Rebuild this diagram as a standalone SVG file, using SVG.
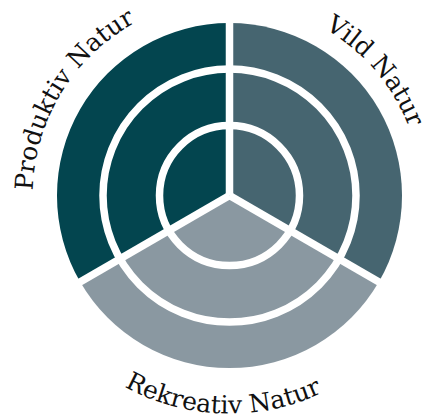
<svg xmlns="http://www.w3.org/2000/svg" width="424" height="418" viewBox="0 0 424 418">
  <style>
    .sep { stroke: #ffffff; stroke-width: 7.5; fill: none; }
    .lbl { font-family: "DejaVu Serif", "Liberation Serif", serif; font-size: 25px; fill: #111111; }
  </style>
  <defs>
    <path id="arcProd" d="M56.4,289.6 A197,197 0 0 1 234.7,-1.3"/>
    <path id="arcVild" d="M194.3,6.7 A192,192 0 0 1 410.3,259.6"/>
    <path id="arcRek" d="M37.2,298.5 A218,218 0 0 0 414.6,310.4"/>
  </defs>
  <rect width="424" height="418" fill="#ffffff"/>
  <g id="produktiv">
    <path d="M229.5,195.6 L80.1,281.85 A172.5,172.5 0 0 1 229.5,23.1 Z" fill="#03454F"/>
  </g>
  <g id="vild">
    <path d="M229.5,195.6 L229.5,23.1 A172.5,172.5 0 0 1 378.9,281.85 Z" fill="#466570"/>
  </g>
  <g id="rekreativ">
    <path d="M229.5,195.6 L378.9,281.85 A172.5,172.5 0 0 1 80.1,281.85 Z" fill="#8A98A1"/>
  </g>
  <g id="separators">
    <circle class="sep" cx="229.5" cy="195.6" r="70"/>
    <circle class="sep" cx="229.5" cy="195.6" r="126.5"/>
    <line class="sep" x1="229.5" y1="195.6" x2="229.5" y2="10"/>
    <line class="sep" x1="229.5" y1="195.6" x2="390.2" y2="288.4"/>
    <line class="sep" x1="229.5" y1="195.6" x2="68.8" y2="288.4"/>
  </g>
  <g id="labels">
    <text class="lbl"><textPath href="#arcProd" startOffset="50%" text-anchor="middle">Produktiv Natur</textPath></text>
    <text class="lbl"><textPath href="#arcVild" startOffset="50%" text-anchor="middle">Vild Natur</textPath></text>
    <text class="lbl"><textPath href="#arcRek" startOffset="50%" text-anchor="middle">Rekreativ Natur</textPath></text>
  </g>
</svg>
